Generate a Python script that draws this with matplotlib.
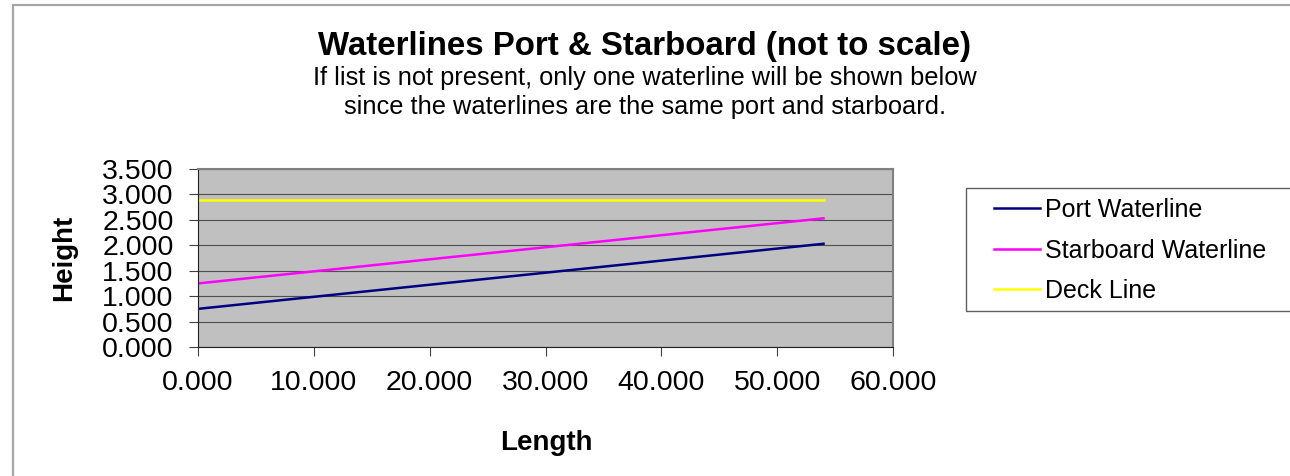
import matplotlib
matplotlib.use("Agg")
import matplotlib.pyplot as plt
from matplotlib.patches import Rectangle

plt.rcParams['font.family'] = ['Liberation Sans', 'DejaVu Sans']

length = [0.0, 54.0]
port_waterline = [0.75, 2.03]
starboard_waterline = [1.25, 2.53]
deck_line = [2.9, 2.9]
series_names = ["Port Waterline", "Starboard Waterline", "Deck Line"]
x_ticks = [0, 10, 20, 30, 40, 50, 60]
y_ticks = [0.0, 0.5, 1.0, 1.5, 2.0, 2.5, 3.0, 3.5]

W, H = 1290, 476
fig = plt.figure(figsize=(W / 100, H / 100), dpi=100)

def fx(px):
    return px / W

def fy(py):
    return 1 - py / H

# outer chart frame
fig.patches.append(Rectangle((fx(13), fy(600)), fx(1400), fy(5) - fy(600),
                             transform=fig.transFigure, fill=False,
                             edgecolor='#a6a6a6', linewidth=1.6))

ax = fig.add_axes([fx(198), fy(347), fx(893) - fx(198), fy(169) - fy(347)])
ax.set_facecolor('#c0c0c0')

ax.plot(length, port_waterline, color='#000080', lw=1.8, label=series_names[0])
ax.plot(length, starboard_waterline, color='#ff00ff', lw=1.8, label=series_names[1])
ax.plot(length, deck_line, color='#ffff00', lw=1.8, label=series_names[2])

ax.set_xlim(0, 60)
ax.set_ylim(0, 3.5)
ax.set_xticks(x_ticks)
ax.set_yticks(y_ticks)
ax.set_xticklabels([f"{v:.3f}" for v in x_ticks])
ax.set_yticklabels([f"{v:.3f}" for v in y_ticks])
ax.tick_params(axis='both', labelsize=20.5, direction='out', length=6.5,
               color='#404040', width=0.8)
ax.tick_params(axis='y', pad=11)
ax.tick_params(axis='x', pad=10)
ax.yaxis.grid(True, color='#505050', lw=0.8)
ax.set_axisbelow(True)
for s in ['top', 'right']:
    ax.spines[s].set_color('#808080')
    ax.spines[s].set_linewidth(1.5)
for s in ['left', 'bottom']:
    ax.spines[s].set_color('#202020')
    ax.spines[s].set_linewidth(0.8)

ax.set_xlabel("Length", fontsize=20, fontweight='bold', va='center')
ax.set_ylabel("Height", fontsize=20, fontweight='bold', va='center')
ax.xaxis.set_label_coords(fx(546), fy(443), transform=fig.transFigure)
ax.yaxis.set_label_coords(fx(64), fy(258), transform=fig.transFigure)

fig.text(0.5, fy(46), "Waterlines Port & Starboard (not to scale)",
         ha='center', va='center', fontsize=23.8, fontweight='bold')
fig.text(0.5, fy(78), "If list is not present, only one waterline will be shown below",
         ha='center', va='center', fontsize=18.3)
fig.text(0.5, fy(107), "since the waterlines are the same port and starboard.",
         ha='center', va='center', fontsize=18.3)

# legend box
fig.patches.append(Rectangle((fx(966), fy(311)), fx(400), fy(188) - fy(311),
                             transform=fig.transFigure, fill=True, facecolor='white',
                             edgecolor='#606060', linewidth=1.0))
handles, labels = ax.get_legend_handles_labels()
leg = fig.legend(handles, labels, loc='upper left',
                 bbox_to_anchor=(fx(994), fy(198)), frameon=False,
                 fontsize=18, handlelength=1.84, handletextpad=0.2,
                 labelspacing=0.66, borderaxespad=0, borderpad=0)

fig.savefig("out.png", dpi=100)
